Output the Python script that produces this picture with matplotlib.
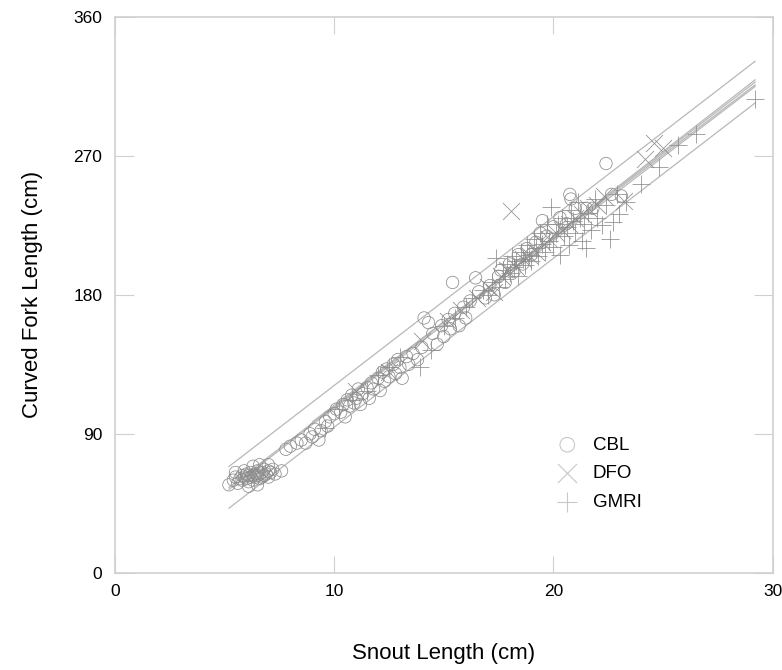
import numpy as np
import matplotlib
matplotlib.use('Agg')
import matplotlib.pyplot as plt

plt.rcParams['font.family'] = ['Liberation Sans', 'DejaVu Sans']

# CBL (circles)
cbl_x = [5.2, 5.4, 5.5, 5.6, 5.7, 5.8, 5.8, 5.9, 6.0, 6.0, 6.1, 6.1, 6.2, 6.2, 6.3, 6.3, 6.4, 6.4,
         6.5, 6.5, 6.6, 6.6, 6.7, 6.7, 6.8, 6.8, 6.9, 7.0, 7.0, 7.1, 7.2, 7.3, 7.6, 5.9, 6.3, 6.6,
         7.0, 6.1, 6.5, 5.5,
         7.8, 8.0, 8.3, 8.5, 8.7, 8.9, 9.0, 9.1, 9.3, 9.4, 9.6, 9.7, 9.8, 10.0, 10.1, 10.3, 10.4,
         10.5, 10.6, 10.7, 10.8, 10.9, 11.0, 11.1, 11.2, 11.3, 11.5, 11.6, 11.7, 11.8, 12.0, 12.1,
         12.2, 12.3, 12.4, 12.5, 12.7, 12.8, 12.9, 13.0, 13.1, 13.3, 13.4, 13.6, 13.8, 14.0, 14.1,
         14.3, 14.5, 14.7, 14.9, 15.0, 15.2, 15.3, 15.4, 15.5, 15.7, 15.9, 16.0, 16.2, 16.45, 16.6,
         16.9, 17.1, 17.3, 17.5, 17.6, 17.8, 18.0, 18.2, 18.4, 18.6, 18.8, 19.0, 19.2, 19.4, 19.5,
         19.7, 20.0, 20.3, 20.6, 20.75, 20.8, 21.0, 21.5, 21.8, 22.4, 22.65, 23.1]
cbl_y = [57, 60, 62, 58, 61, 63, 60, 62, 64, 61, 59, 63, 62, 65, 60, 63, 64, 62,
         66, 63, 61, 64, 65, 62, 67, 63, 64, 66, 62, 65, 67, 64, 66, 66, 69, 70,
         70, 56, 57, 65,
         80, 82, 84, 86, 84, 90, 88, 93, 86, 92, 98, 95, 101, 103, 106, 104, 109,
         101, 112, 108, 115, 110, 113, 119, 109, 116, 120, 113, 123, 119, 126, 118,
         130, 124, 132, 127, 135, 129, 138, 133, 126, 140, 135, 142, 138, 146, 165,
         162, 155, 148, 160, 153, 164, 158, 188, 168, 160, 172, 165, 176, 191, 182,
         178, 186, 180, 192, 196, 188, 200, 195, 206, 200, 210, 206, 214, 220, 228,
         218, 224, 230, 226, 245, 242, 236, 236, 236, 265, 245, 244]

# DFO (crosses)
dfo_x = [11.0, 12.5, 14.0, 15.2, 15.8, 16.5, 17.0, 17.3, 17.6, 17.9, 18.05, 18.3, 18.6, 18.9,
         19.2, 19.5, 19.8, 20.1, 20.4, 20.7, 21.0, 21.3, 21.6, 22.0, 22.3, 23.2, 24.2, 24.6, 25.0]
dfo_y = [118, 130, 150, 163, 170, 178, 185, 182, 192, 196, 234, 198, 203, 206,
         208, 214, 216, 220, 222, 226, 230, 232, 236, 238, 244, 241, 268, 278, 275]

# GMRI (pluses)
gmri_x = [9.6, 10.2, 10.8, 11.5, 12.0, 12.5, 13.0, 13.9, 14.4, 15.0, 15.5, 16.0, 16.3, 16.8,
          17.0, 17.2, 17.4, 17.5, 17.7, 17.8, 17.9, 18.0, 18.1, 18.2, 18.3, 18.4, 18.5, 18.6,
          18.7, 18.8, 18.9, 19.0, 19.1, 19.2, 19.3, 19.4, 19.5, 19.6, 19.7, 19.8, 19.9, 20.0,
          20.1, 20.2, 20.3, 20.4, 20.5, 20.6, 20.7, 20.8, 20.9, 21.0, 21.1, 21.2, 21.3, 21.4,
          21.5, 21.6, 21.7, 21.9, 22.0, 22.2, 22.4, 22.6, 22.7, 22.9, 23.0, 23.3, 24.0, 24.8,
          25.7, 26.5, 29.2]
gmri_y = [94, 106, 112, 118, 128, 133, 140, 133, 144, 160, 165, 172, 178, 183,
          180, 188, 204, 185, 196, 190, 200, 194, 205, 198, 202, 192, 208, 203,
          199, 212, 206, 202, 216, 210, 205, 220, 213, 208, 226, 215, 237, 211,
          220, 226, 206, 230, 218, 224, 212, 235, 228, 220, 240, 230, 215, 226,
          210, 233, 222, 242, 230, 225, 238, 216, 227, 245, 232, 240, 252, 263,
          277, 284, 307]

# fitted lines: (x start, x end, slope, intercept)
fit_lines = [
    (5.2, 29.2, 10.93, 12.0),    # upper band
    (5.2, 29.2, 10.93, -15.0),   # lower band
    (5.2, 29.2, 10.93, -1.5),    # all data
    (5.2, 29.2, 11.05, -3.5),    # CBL
    (9.0, 29.2, 10.80, 0.5),     # DFO
    (9.5, 29.2, 10.85, -2.0),    # GMRI
]

fig = plt.figure(figsize=(7.82, 6.70), dpi=100)
ax = fig.add_axes([0.147, 0.145, 0.841, 0.830])

for x0, x1, m, b in fit_lines:
    xs = np.array([x0, x1])
    ax.plot(xs, m * xs + b, color='#b8b8b8', lw=0.9, zorder=1)

mk_col = '#8c8c8c'
ax.scatter(cbl_x, cbl_y, s=80, facecolors='none', edgecolors=mk_col, linewidths=0.55, marker='o', zorder=2)
ax.scatter(dfo_x, dfo_y, s=150, color=mk_col, linewidths=0.55, marker='x', zorder=2)
ax.scatter(gmri_x, gmri_y, s=150, color=mk_col, linewidths=0.55, marker='+', zorder=2)

# legend proxies
h1 = ax.scatter([], [], s=110, facecolors='none', edgecolors='#c8c8c8', linewidths=0.8, marker='o', label='CBL')
h2 = ax.scatter([], [], s=190, color='#c8c8c8', linewidths=0.8, marker='x', label='DFO')
h3 = ax.scatter([], [], s=190, color='#c8c8c8', linewidths=0.8, marker='+', label='GMRI')
ax.legend(handles=[h1, h2, h3], loc='upper left', bbox_to_anchor=(0.645, 0.262),
          frameon=False, fontsize=13.5, handletextpad=0.35, labelspacing=0.62, borderpad=0)

ax.set_xlim(0, 30)
ax.set_ylim(0, 360)
ax.set_xticks([0, 10, 20, 30])
ax.set_yticks([0, 90, 180, 270, 360])
ax.tick_params(direction='in', top=True, right=True, color='#d0d0d0', labelsize=12.5)
ax.tick_params(axis='y', length=14, pad=9)
ax.tick_params(axis='x', length=12, pad=8)
for sp in ax.spines.values():
    sp.set_color('#d0d0d0')
    sp.set_linewidth(1.2)

ax.set_xlabel('Snout Length (cm)', fontsize=16, labelpad=32)
ax.set_ylabel('Curved Fork Length (cm)', fontsize=16, labelpad=22)

fig.savefig('out.png', dpi=100)
